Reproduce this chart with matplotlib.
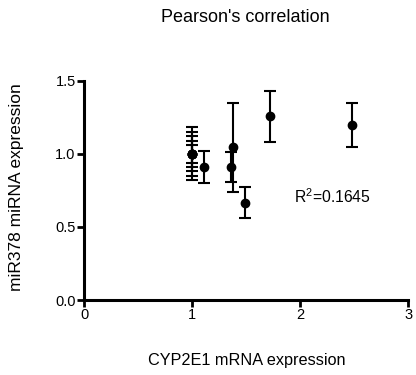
import matplotlib
matplotlib.use("Agg")
import matplotlib.pyplot as plt

# CYP2E1 mRNA (x) vs miR378 miRNA (y), mean +/- SEM
cyp2e1 = [1.0, 1.0, 1.0, 1.0, 1.0, 1.11, 1.36, 1.38, 1.49, 1.72, 2.48]
mir378 = [1.0, 1.0, 1.0, 1.0, 1.0, 0.91, 0.91, 1.045, 0.665, 1.255, 1.198]
mir378_err = [0.18, 0.15, 0.12, 0.09, 0.06, 0.11, 0.105, 0.305, 0.105, 0.175, 0.152]

x_ticks = [0, 1, 2, 3]
y_ticks = [0.0, 0.5, 1.0, 1.5]
r2_label = "R$^2$=0.1645"

plt.rcParams.update({
    "font.family": ["Liberation Sans", "DejaVu Sans"],
    "mathtext.fontset": "custom",
    "mathtext.rm": "Liberation Sans",
    "font.size": 10,
})

fig = plt.figure(figsize=(4.16, 3.75), dpi=100)
ax = fig.add_axes([0.202, 0.2, 0.779, 0.585])

ax.errorbar(cyp2e1, mir378, yerr=mir378_err, fmt="o", color="black",
            markersize=6, elinewidth=1.5, capsize=4, capthick=1.5)

ax.set_xlim(0, 3)
ax.set_ylim(0, 1.5)
ax.set_xticks(x_ticks)
ax.set_xticklabels([str(t) for t in x_ticks])
ax.set_yticks(y_ticks)
ax.set_yticklabels([f"{t:.1f}" for t in y_ticks])

for side in ("top", "right"):
    ax.spines[side].set_visible(False)
for side in ("left", "bottom"):
    ax.spines[side].set_linewidth(2.2)
ax.tick_params(direction="out", length=5, width=2, labelsize=10.5, pad=1)

ax.text(1.94, 0.71, r2_label, fontsize=11.3, va="center", ha="left")

fig.text(0.594, 1 - 361 / 375, "CYP2E1 mRNA expression", fontsize=11.7,
         ha="center", va="center")
fig.text(17 / 416, 1 - 187 / 375, "miR378 miRNA expression", fontsize=12.5,
         ha="center", va="center", rotation=90)
fig.text(0.59, 1 - 17 / 375, "Pearson's correlation", fontsize=13,
         ha="center", va="center")

fig.savefig("out.png", dpi=100)
